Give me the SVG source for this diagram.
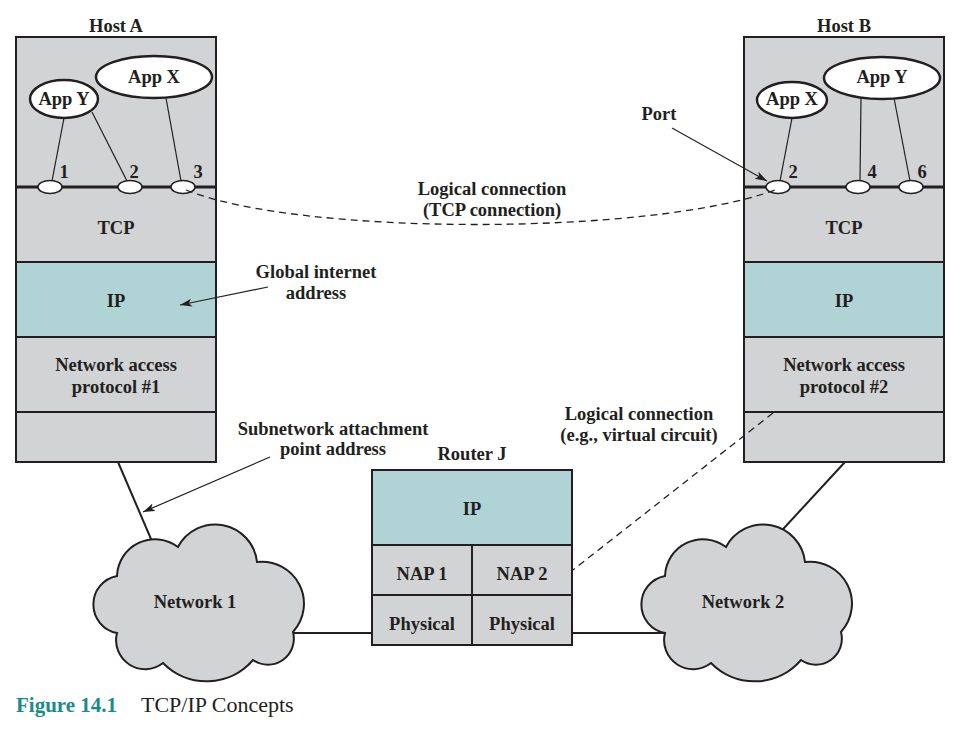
<svg xmlns="http://www.w3.org/2000/svg" width="961" height="729" viewBox="0 0 961 729">
<style>
.box{fill:#d1d3d4;stroke:#231f20;stroke-width:2}
.ip{fill:#b0d4d5;stroke:#231f20;stroke-width:2}
.sep{stroke:#231f20;stroke-width:2}
.pl{stroke:#231f20;stroke-width:3}
.app{fill:#fff;stroke:#231f20;stroke-width:2.5}
.port{fill:#fff;stroke:#231f20;stroke-width:1.5}
.ln{stroke:#231f20;stroke-width:1.2;fill:none}
.sl{stroke:#231f20;stroke-width:2;fill:none}
.dash{stroke:#231f20;stroke-width:1.3;fill:none;stroke-dasharray:7,5}
.cloud{fill:#d1d3d4;stroke:#231f20;stroke-width:2}
.t{font-family:"Liberation Serif","Times New Roman",serif;font-weight:bold;font-size:18.5px;fill:#231f20;text-anchor:middle}
</style>
<defs>
<marker id="ah" markerWidth="14" markerHeight="10" refX="12" refY="4" orient="auto" markerUnits="userSpaceOnUse">
<path d="M0,0 L12,4 L0,8 L3,4 z" fill="#231f20"/>
</marker>
<path id="cloudshape" d="M117,576 A38,38 0 0 1 178,547 A42,42 0 0 1 257,562 A42,42 0 0 1 293,632 A26,26 0 0 1 253,660 A61,61 0 0 1 163,663 A29,29 0 0 1 117,633 A29,29 0 0 1 117,576 Z"/>
</defs>
<rect width="961" height="729" fill="#fff"/>

<g id="hostA">
<text class="t" x="116" y="32">Host A</text>
<rect class="box" x="16" y="37" width="200" height="425"/>
<rect class="ip" x="16" y="262" width="200" height="75"/>
<line class="sep" x1="16" y1="412" x2="216" y2="412"/>
<line class="pl" x1="16" y1="187" x2="216" y2="187"/>
<line class="ln" x1="64" y1="118" x2="52" y2="181"/>
<line class="ln" x1="92" y1="112" x2="127" y2="181"/>
<line class="ln" x1="166" y1="98" x2="181" y2="181"/>
<ellipse class="app" cx="64" cy="99" rx="34" ry="19"/>
<text class="t" x="64" y="105">App Y</text>
<ellipse class="app" cx="154" cy="77" rx="58" ry="21"/>
<text class="t" x="154" y="83">App X</text>
<ellipse class="port" cx="50" cy="187" rx="12" ry="6.5"/>
<ellipse class="port" cx="130" cy="187" rx="12" ry="6.5"/>
<ellipse class="port" cx="183" cy="187" rx="12" ry="6.5"/>
<text class="t" x="64" y="178">1</text>
<text class="t" x="134" y="178">2</text>
<text class="t" x="198" y="178">3</text>
<text class="t" x="116" y="234">TCP</text>
<text class="t" x="116" y="307">IP</text>
<text class="t" x="116" y="371">Network access</text>
<text class="t" x="116" y="393">protocol #1</text>
</g>

<g id="hostB">
<text class="t" x="844" y="32">Host B</text>
<rect class="box" x="744" y="37" width="200" height="425"/>
<rect class="ip" x="744" y="262" width="200" height="75"/>
<line class="sep" x1="744" y1="412" x2="944" y2="412"/>
<line class="pl" x1="744" y1="187" x2="944" y2="187"/>
<line class="ln" x1="792" y1="118" x2="780" y2="181"/>
<line class="ln" x1="861" y1="98" x2="860" y2="181"/>
<line class="ln" x1="894" y1="98" x2="910" y2="181"/>
<ellipse class="app" cx="792" cy="100" rx="35" ry="18"/>
<text class="t" x="792" y="105">App X</text>
<ellipse class="app" cx="882" cy="78" rx="58" ry="21"/>
<text class="t" x="882" y="83">App Y</text>
<ellipse class="port" cx="778" cy="187" rx="12" ry="6.5"/>
<ellipse class="port" cx="858" cy="187" rx="12" ry="6.5"/>
<ellipse class="port" cx="911" cy="187" rx="12" ry="6.5"/>
<text class="t" x="793" y="178">2</text>
<text class="t" x="872" y="178">4</text>
<text class="t" x="922" y="178">6</text>
<text class="t" x="844" y="234">TCP</text>
<text class="t" x="844" y="307">IP</text>
<text class="t" x="844" y="371">Network access</text>
<text class="t" x="844" y="393">protocol #2</text>
</g>

<g id="routerJ">
<text class="t" x="472" y="460">Router J</text>
<rect class="box" x="372" y="470" width="200" height="175"/>
<rect class="ip" x="372" y="470" width="200" height="75"/>
<line class="sep" x1="372" y1="595" x2="572" y2="595"/>
<line class="sep" x1="472" y1="545" x2="472" y2="645"/>
<text class="t" x="472" y="515">IP</text>
<text class="t" x="422" y="580">NAP 1</text>
<text class="t" x="522" y="580">NAP 2</text>
<text class="t" x="422" y="630">Physical</text>
<text class="t" x="522" y="630">Physical</text>
</g>

<g id="connectors">
<line class="sl" x1="118" y1="462" x2="160" y2="560"/>
<line class="sl" x1="845" y1="462" x2="773" y2="540"/>
<line class="sl" x1="280" y1="633" x2="372" y2="633"/>
<line class="sl" x1="572" y1="633" x2="680" y2="633"/>
<path class="dash" d="M186,190 C300,236 650,236 775,190"/>
<line class="dash" x1="773" y1="413" x2="573" y2="570"/>
<line class="ln" x1="672" y1="128" x2="767" y2="181" marker-end="url(#ah)"/>
<line class="ln" x1="268" y1="287" x2="180" y2="305" marker-end="url(#ah)"/>
<line class="ln" x1="270" y1="457" x2="143" y2="512" marker-end="url(#ah)"/>
</g>

<g id="network1">
<use href="#cloudshape" class="cloud"/>
<text class="t" x="195" y="608">Network 1</text>
</g>

<g id="network2">
<use href="#cloudshape" class="cloud" transform="translate(548,0)"/>
<text class="t" x="743" y="608">Network 2</text>
</g>

<g id="labels">
<text class="t" x="492" y="195">Logical connection</text>
<text class="t" x="492" y="216">(TCP connection)</text>
<text class="t" x="659" y="120">Port</text>
<text class="t" x="316" y="278">Global internet</text>
<text class="t" x="316" y="299">address</text>
<text class="t" x="333" y="435">Subnetwork attachment</text>
<text class="t" x="333" y="455">point address</text>
<text class="t" x="639" y="420">Logical connection</text>
<text class="t" x="639" y="441">(e.g., virtual circuit)</text>
</g>

<g id="caption">
<text x="16" y="712" style="font-family:'Liberation Serif','Times New Roman',serif;font-weight:bold;font-size:21px;fill:#1b8a8c">Figure 14.1</text>
<text x="141" y="712" style="font-family:'Liberation Serif','Times New Roman',serif;font-size:22px;fill:#231f20">TCP/IP Concepts</text>
</g>
</svg>
